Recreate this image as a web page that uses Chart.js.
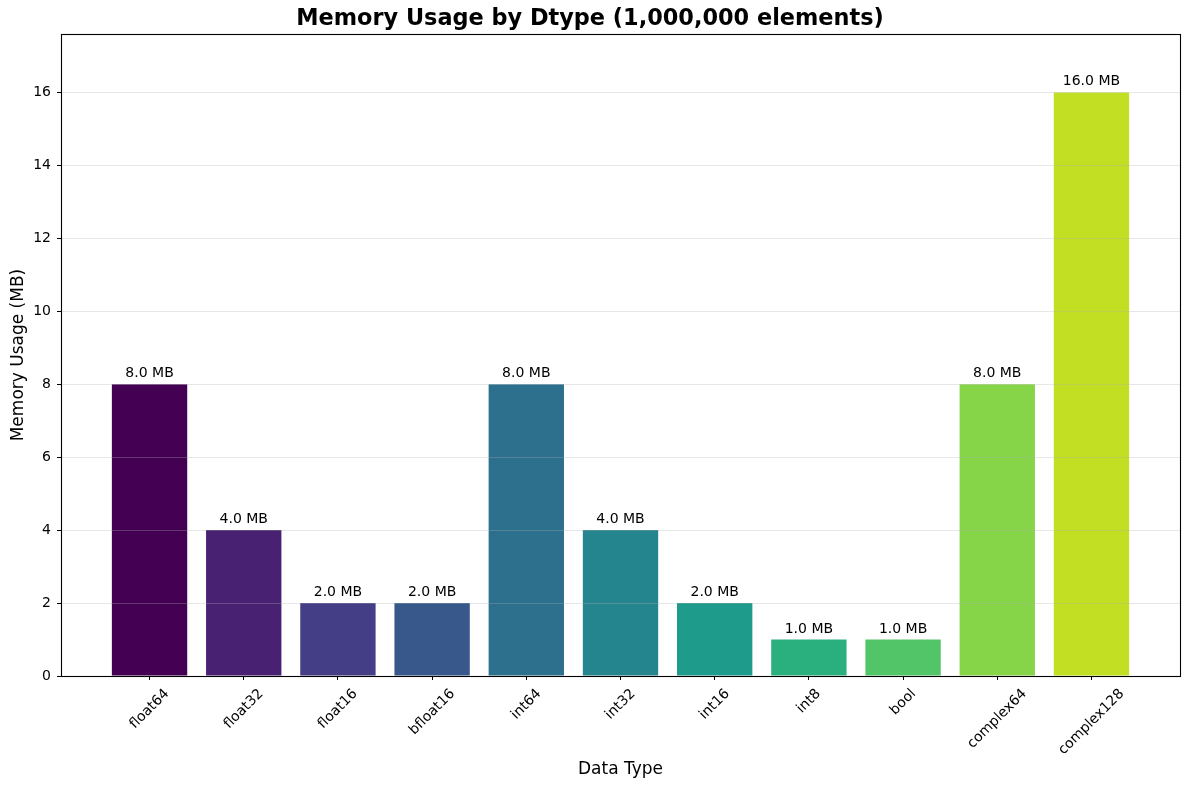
<!DOCTYPE html>
<html>
<head>
<meta charset="utf-8">
<script src="https://cdn.jsdelivr.net/npm/chart.js@4/dist/chart.umd.min.js"></script>
<style>
html,body{margin:0;padding:0;background:#fff;}
#wrap{width:1189px;height:790px;}
</style>
</head>
<body>
<div id="wrap"><canvas id="c" width="1189" height="790"></canvas></div>
<script>
const categories = ["float64","float32","float16","bfloat16","int64","int32","int16","int8","bool","complex64","complex128"];
const memoryMB = [8.0, 4.0, 2.0, 2.0, 8.0, 4.0, 2.0, 1.0, 1.0, 8.0, 16.0];
const barColors = ["#440154","#482173","#433e85","#38588c","#2d708e","#25858e","#1e9b8a","#2ab07f","#52c569","#86d549","#c2df23"];
const yTicks = [0, 2, 4, 6, 8, 10, 12, 14, 16];

const FONT = "DejaVu Sans";

const overlay = {
  id: 'overlay',
  afterDatasetsDraw(chart) {
    const ctx = chart.ctx;
    const a = chart.chartArea;
    const ys = chart.scales.y, xs = chart.scales.x;
    ctx.save();
    // grid lines (drawn above bars, like matplotlib)
    ctx.strokeStyle = 'rgba(176,176,176,0.3)';
    ctx.lineWidth = 1;
    yTicks.forEach(v => {
      const py = Math.round(ys.getPixelForValue(v)) + 0.5;
      ctx.beginPath(); ctx.moveTo(a.left, py); ctx.lineTo(a.right, py); ctx.stroke();
    });
    // value labels
    ctx.fillStyle = '#000';
    ctx.font = '14px "' + FONT + '"';
    ctx.textAlign = 'center';
    ctx.textBaseline = 'alphabetic';
    memoryMB.forEach((v, i) => {
      const px = xs.getPixelForValue(i);
      const py = ys.getPixelForValue(v) - 7;
      ctx.fillText(v.toFixed(1) + ' MB', px, py);
    });
    // x tick labels rotated 45 (matplotlib-style centred)
    const h = 16;
    categories.forEach((c, i) => {
      const px = xs.getPixelForValue(i);
      const w = ctx.measureText(c).width;
      const cy = a.bottom + 10 + (w + h) / (2 * Math.SQRT2);
      ctx.save();
      ctx.translate(px, cy);
      ctx.rotate(-Math.PI / 4);
      ctx.textAlign = 'center';
      ctx.textBaseline = 'middle';
      ctx.fillText(c, 0, 0);
      ctx.restore();
    });
    // frame
    ctx.strokeStyle = '#000';
    ctx.lineWidth = 1.1;
    ctx.strokeRect(Math.round(a.left) + 0.5, Math.round(a.top) + 0.5, Math.round(a.right - a.left), Math.round(a.bottom - a.top));
    ctx.restore();
  }
};

new Chart(document.getElementById('c'), {
  type: 'bar',
  data: {
    datasets: [{
      data: memoryMB.map((v, i) => ({x: i, y: v})),
      backgroundColor: barColors,
      borderWidth: 0,
      inflateAmount: 0,
      barPercentage: 0.8,
      categoryPercentage: 1.0
    }]
  },
  options: {
    responsive: false,
    animation: false,
    devicePixelRatio: 1,
    layout: {padding: {left: 0, right: 9, top: 0, bottom: 0}},
    plugins: {
      legend: {display: false},
      tooltip: {enabled: false},
      title: {
        display: true,
        text: 'Memory Usage by Dtype (1,000,000 elements)',
        color: '#000',
        font: {family: FONT, size: 22.4, weight: 'bold', lineHeight: 1.2},
        padding: {top: 6, bottom: 1.2}
      }
    },
    scales: {
      x: {
        type: 'linear',
        offset: false,
        min: -0.94,
        max: 10.94,
        afterBuildTicks(scale) { scale.ticks = categories.map((c, i) => ({value: i})); },
        afterFit(scale) { scale.height = 114; },
        ticks: {display: false},
        grid: {display: true, offset: false, drawOnChartArea: false, drawTicks: true, tickLength: 4, color: '#000', lineWidth: 1},
        border: {display: false},
        title: {
          display: true, text: 'Data Type', color: '#000',
          font: {family: FONT, size: 17, lineHeight: 1.2},
          padding: {top: 10, bottom: 10}
        }
      },
      y: {
        type: 'linear',
        min: 0,
        max: 17.6,
        afterBuildTicks(scale) { scale.ticks = yTicks.map(v => ({value: v})); },
        afterFit(scale) { scale.width = 61; },
        ticks: {
          color: '#000',
          font: {family: FONT, size: 14},
          padding: 6,
          callback: v => String(v)
        },
        grid: {display: true, drawOnChartArea: false, drawTicks: true, tickLength: 4, color: '#000', lineWidth: 1},
        border: {display: false},
        title: {
          display: true, text: 'Memory Usage (MB)', color: '#000',
          font: {family: FONT, size: 17, lineHeight: 1.2},
          padding: {top: 8, bottom: 8}
        }
      }
    }
  },
  plugins: [overlay]
});
</script>
</body>
</html>
